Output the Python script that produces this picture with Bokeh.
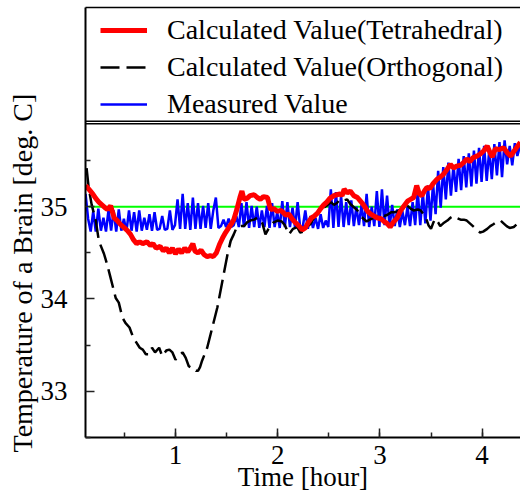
from bokeh.plotting import figure
from bokeh.models import (Legend, LegendItem, LinearAxis, SingleIntervalTicker, FixedTicker, Range1d,
                          Span, Title)
from bokeh.embed import file_html
from bokeh.resources import INLINE

# ---- data (hours, deg C) ----
tetra_t = [0.12, 0.16, 0.19, 0.22, 0.25, 0.28, 0.31, 0.335, 0.365, 0.40, 0.43, 0.46, 0.50, 0.53, 0.56,
           0.59, 0.62, 0.65, 0.68, 0.72, 0.755, 0.78, 0.81, 0.85, 0.88, 0.91, 0.94, 0.97, 1.00, 1.03,
           1.06, 1.09, 1.12, 1.15, 1.17, 1.19, 1.22, 1.25, 1.28, 1.31, 1.34, 1.37, 1.40, 1.43, 1.46,
           1.49, 1.525, 1.55, 1.57, 1.60, 1.63, 1.65, 1.67, 1.70, 1.73, 1.77, 1.80, 1.83, 1.86, 1.90,
           1.93, 1.96, 1.995, 2.03, 2.06, 2.08, 2.11, 2.14, 2.17, 2.20, 2.24, 2.27, 2.30, 2.33, 2.36,
           2.39, 2.42, 2.45, 2.48, 2.51, 2.55, 2.58, 2.61, 2.63, 2.65, 2.68, 2.71, 2.745, 2.78, 2.81,
           2.84, 2.88, 2.91, 2.94, 2.97, 3.01, 3.04, 3.07, 3.10, 3.13, 3.17, 3.20, 3.23, 3.27, 3.30,
           3.33, 3.36, 3.385, 3.41, 3.44, 3.46, 3.49, 3.52, 3.56, 3.59, 3.62, 3.66, 3.69, 3.72, 3.75,
           3.79, 3.82, 3.85, 3.88, 3.91, 3.95, 3.98, 4.02, 4.05, 4.08, 4.10, 4.13, 4.17, 4.21, 4.25,
           4.28, 4.31, 4.33, 4.375]
tetra_temp = [35.23, 35.18, 35.14, 35.09, 35.05, 35.02, 34.99, 34.97, 35.01, 34.88, 34.85, 34.81, 34.77, 34.74, 34.70,
              34.64, 34.60, 34.62, 34.60, 34.62, 34.58, 34.60, 34.55, 34.57, 34.52, 34.55, 34.50, 34.55, 34.49, 34.54,
              34.50, 34.55, 34.51, 34.56, 34.60, 34.52, 34.50, 34.53, 34.48, 34.46, 34.47, 34.46, 34.50, 34.59, 34.66,
              34.72, 34.78, 34.82, 34.86, 34.97, 35.10, 35.17, 35.08, 35.09, 35.12, 35.13, 35.10, 35.08, 35.11, 35.10,
              34.97, 34.98, 34.95, 34.96, 34.93, 34.91, 34.92, 34.87, 34.83, 34.80, 34.75, 34.77, 34.83, 34.88, 34.90,
              34.93, 34.98, 35.02, 35.05, 35.09, 35.12, 35.13, 35.14, 35.12, 35.19, 35.15, 35.17, 35.12, 35.10, 35.06,
              35.02, 34.95, 34.92, 34.90, 34.88, 34.87, 34.84, 34.82, 34.78, 34.83, 34.88, 34.95, 35.00, 35.06, 35.08,
              35.10, 35.23, 35.14, 35.12, 35.18, 35.21, 35.20, 35.25, 35.30, 35.32, 35.35, 35.41, 35.46, 35.42, 35.44,
              35.45, 35.48, 35.52, 35.49, 35.53, 35.55, 35.57, 35.61, 35.66, 35.58, 35.54, 35.63, 35.62, 35.64, 35.58,
              35.55, 35.60, 35.63, 35.70]

ortho_t = [0.13, 0.15, 0.18, 0.22, 0.25, 0.30, 0.33, 0.36, 0.39, 0.415, 0.445, 0.48, 0.51, 0.55, 0.58,
           0.61, 0.65, 0.68, 0.71, 0.74, 0.77, 0.80, 0.84, 0.87, 0.91, 0.94, 0.97, 1.00, 1.03, 1.07,
           1.10, 1.13, 1.16, 1.18, 1.20, 1.22, 1.24, 1.26, 1.31, 1.36, 1.41, 1.46, 1.51, 1.54, 1.57,
           1.60, 1.64, 1.67, 1.70, 1.73, 1.77, 1.80, 1.83, 1.85, 1.88, 1.91, 1.93, 1.96, 2.00, 2.04,
           2.07, 2.11, 2.15, 2.19, 2.22, 2.255, 2.29, 2.32, 2.35, 2.385, 2.42, 2.45, 2.49, 2.52, 2.55,
           2.58, 2.61, 2.65, 2.68, 2.71, 2.74, 2.78, 2.81, 2.84, 2.87, 2.90, 2.94, 2.97, 3.01, 3.04,
           3.07, 3.11, 3.14, 3.17, 3.20, 3.24, 3.27, 3.30, 3.33, 3.37, 3.40, 3.425, 3.45, 3.475, 3.50,
           3.52, 3.54, 3.57, 3.59, 3.62, 3.66, 3.69, 3.72, 3.75, 3.79, 3.82, 3.85, 3.88, 3.92, 3.95,
           3.98, 4.01, 4.05, 4.08, 4.11, 4.15, 4.18, 4.21, 4.24, 4.27, 4.31, 4.34, 4.375]
ortho_temp = [35.42, 35.21, 35.02, 34.85, 34.63, 34.49, 34.38, 34.25, 34.12, 34.01, 33.96, 33.80, 33.74, 33.69, 33.60,
              33.54, 33.47, 33.45, 33.40, 33.40, 33.47, 33.42, 33.47, 33.38, 33.44, 33.45, 33.42, 33.34, 33.38, 33.42,
              33.36, 33.27, 33.25, 33.25, 33.22, 33.22, 33.26, 33.33, 33.47, 33.69, 33.91, 34.20, 34.49, 34.63, 34.70,
              34.78, 34.79, 34.79, 34.83, 34.85, 34.86, 34.88, 34.86, 34.82, 34.70, 34.76, 34.79, 34.83, 34.85, 34.84,
              34.80, 34.70, 34.76, 34.78, 34.72, 34.73, 34.79, 34.81, 34.87, 34.92, 34.95, 34.99, 35.02, 35.05, 35.02,
              35.04, 35.08, 35.07, 35.08, 35.03, 35.00, 34.96, 34.90, 34.87, 34.84, 34.86, 34.88, 34.90, 34.92, 34.90,
              34.91, 34.94, 34.94, 34.95, 34.97, 35.00, 35.01, 34.98, 34.96, 34.97, 34.96, 34.92, 34.88, 34.80, 34.76,
              34.82, 34.87, 34.83, 34.79, 34.82, 34.85, 34.88, 34.90, 34.88, 34.86, 34.86, 34.85, 34.82, 34.78, 34.75,
              34.72, 34.73, 34.76, 34.79, 34.81, 34.84, 34.85, 34.82, 34.79, 34.77, 34.78, 34.81, 34.82]

# measured value, sampled every 0.025 h starting at 0.12 h
measured_temp = [35.14, 34.87, 34.73, 34.95, 34.73, 34.98, 34.74, 34.88, 34.73, 34.97,
                 34.74, 34.96, 34.73, 34.97, 34.74, 34.87, 34.73, 34.96, 34.74, 34.94,
                 34.73, 34.96, 34.74, 34.88, 34.75, 34.92, 34.74, 34.94, 34.75, 34.76,
                 34.90, 34.75, 34.76, 34.96, 34.75, 34.80, 35.08, 34.76, 35.14, 34.76,
                 35.04, 34.75, 35.10, 34.76, 35.04, 34.76, 35.01, 34.77, 35.04, 34.76,
                 34.96, 35.10, 34.77, 34.79, 34.86, 34.78, 34.87, 34.78, 34.80, 34.90,
                 34.78, 35.04, 34.78, 35.05, 34.77, 35.01, 34.78, 35.00, 34.77, 34.96,
                 34.78, 35.01, 34.77, 35.04, 34.78, 34.94, 34.77, 35.06, 34.78, 35.05,
                 34.78, 34.99, 34.77, 35.05, 34.77, 34.78, 34.96, 34.76, 34.90, 34.77,
                 34.88, 34.76, 34.92, 34.77, 34.85, 34.78, 35.19, 34.77, 35.16, 34.78,
                 35.12, 34.78, 35.05, 34.80, 35.07, 34.79, 35.00, 34.80, 35.02, 34.79,
                 35.14, 34.78, 35.00, 34.79, 35.17, 34.78, 35.19, 34.80, 35.12, 34.78,
                 35.02, 34.79, 34.97, 34.78, 34.95, 34.80, 35.00, 34.79, 35.05, 34.80,
                 35.17, 34.80, 35.15, 34.82, 35.23, 34.85, 35.25, 34.92, 35.39, 34.99,
                 35.43, 35.08, 35.48, 35.12, 35.45, 35.16, 35.52, 35.18, 35.55, 35.21,
                 35.58, 35.22, 35.61, 35.25, 35.64, 35.27, 35.66, 35.28, 35.62, 35.30,
                 35.68, 35.34, 35.70, 35.32, 35.72, 35.46, 35.66, 35.45, 35.69, 35.55,
                 35.66]
measured_t = [round(0.12 + 0.025 * i, 3) for i in range(len(measured_temp))]

setpoint_t = [0.15, 4.4]
setpoint_temp = [35.0, 35.0]

series_labels = ["Calculated Value(Tetrahedral)", "Calculated Value(Orthogonal)", "Measured Value"]
x_label = "Time [hour]"
y_label = "Temperature of a Brain [deg. C]"
y_ticks = [33, 34, 35]
y_minor_ticks = [32.5, 33.5, 34.5, 35.5]

# axis extents; the frame's upper part holds the legend box
X_MIN, X_MAX = 0.1194, 4.3757
Y_MIN, Y_MAX = 32.497, 37.161
PLOT_TOP = 35.899        # top edge of the data area
LEGEND_BOTTOM = 35.928   # lower edge of the legend box

FONT = "Liberation Serif"
FS = "27px"


def blank_axis(width=1.5):
    ax = LinearAxis(ticker=FixedTicker(ticks=[]))
    ax.axis_line_width = width
    ax.axis_line_color = "black"
    ax.major_tick_in = 0
    ax.major_tick_out = 0
    ax.minor_tick_in = 0
    ax.minor_tick_out = 0
    ax.major_label_standoff = 0
    ax.axis_label_standoff = 0
    ax.major_label_text_font_size = "0px"
    return ax


p = figure(width=520, height=500, x_range=Range1d(X_MIN, X_MAX), y_range=Range1d(Y_MIN, Y_MAX),
           output_backend="svg", toolbar_location=None, x_axis_type=None, y_axis_type=None,
           min_border_left=85, min_border_right=0, min_border_top=7, min_border_bottom=63)
p.outline_line_color = None
p.background_fill_color = "white"
p.border_fill_color = "white"

xaxis = LinearAxis(ticker=SingleIntervalTicker(interval=1, num_minor_ticks=2), axis_label=x_label)
yaxis = LinearAxis(ticker=FixedTicker(ticks=y_ticks, minor_ticks=y_minor_ticks))
for ax in (xaxis, yaxis):
    ax.axis_line_width = 2
    ax.axis_line_color = "black"
    ax.major_tick_in = 9
    ax.major_tick_out = 0
    ax.minor_tick_in = 5
    ax.minor_tick_out = 0
    ax.major_tick_line_width = 1.5
    ax.minor_tick_line_width = 1.5
    ax.major_tick_line_color = "#222222"
    ax.minor_tick_line_color = "#222222"
    ax.major_label_text_font = FONT
    ax.major_label_text_font_size = FS
    ax.major_label_text_color = "black"
    ax.axis_label_text_font = FONT
    ax.axis_label_text_font_size = FS
    ax.axis_label_text_font_style = "normal"
    ax.axis_label_text_color = "black"
xaxis.major_label_standoff = 8
xaxis.axis_label_standoff = -5
yaxis.major_label_standoff = 18
p.add_layout(xaxis, "below")
p.add_layout(yaxis, "left")
p.add_layout(blank_axis(1.5), "above")

ytitle = Title(text=y_label, align="left", offset=-15, standoff=0, vertical_align="bottom",
               text_font=FONT, text_font_size="28px", text_font_style="normal", text_color="black")
p.add_layout(ytitle, "left")

# legend box lower edge and data-area upper edge
p.add_layout(Span(location=LEGEND_BOTTOM, dimension="width", line_color="black", line_width=1.5))
p.add_layout(Span(location=PLOT_TOP, dimension="width", line_color="black", line_width=1.5))

g = p.line(setpoint_t, setpoint_temp, line_color="#00ff00", line_width=2)
rb = p.line(measured_t, measured_temp, line_color="#0000ff", line_width=2.5)
rk = p.line(ortho_t, ortho_temp, line_color="black", line_width=2.5, line_dash="19 7")
rr = p.line(tetra_t, tetra_temp, line_color="#ff0000", line_width=5)

legend = Legend(items=[LegendItem(label=series_labels[0], renderers=[rr]),
                       LegendItem(label=series_labels[1], renderers=[rk]),
                       LegendItem(label=series_labels[2], renderers=[rb])],
                location=(15, 317))
legend.border_line_color = None
legend.background_fill_alpha = 0
legend.padding = 0
legend.margin = 0
legend.spacing = 5
legend.glyph_width = 47
legend.glyph_height = 20
legend.label_standoff = 20
legend.label_text_font = FONT
legend.label_text_font_size = "28px"
legend.label_text_color = "black"
p.add_layout(legend)

open("out.html", "w").write(file_html(p, INLINE))
